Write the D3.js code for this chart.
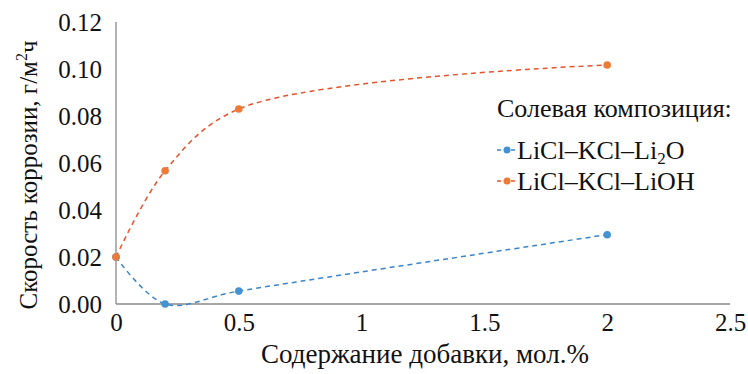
<!DOCTYPE html>
<html><head><meta charset="utf-8">
<script src="https://cdn.jsdelivr.net/npm/d3@7"></script>
<style>body{margin:0;background:#fff}svg{display:block}</style>
</head><body><svg id="c" width="748" height="374"></svg>
<script>
const xValues = [0, 0.2, 0.5, 2];
const li2oValues = [0.02, 0.0, 0.0055, 0.0295];
const liohValues = [0.02, 0.0567, 0.083, 0.1017];
const xTicks = [0, 0.5, 1, 1.5, 2, 2.5];
const yTicks = [0, 0.02, 0.04, 0.06, 0.08, 0.10, 0.12];
const seriesNames = ["LiCl–KCl–Li2O", "LiCl–KCl–LiOH"];

const FONT = "Liberation Serif";
const svg = d3.select("#c");
const x = d3.scaleLinear().domain([0, 2.5]).range([116, 730]);
const y = d3.scaleLinear().domain([0, 0.12]).range([304, 22]);

const axisColor = "#8a8a8a";
svg.append("line").attr("x1", x(0)).attr("x2", x(2.5)).attr("y1", y(0)).attr("y2", y(0)).attr("stroke", axisColor).attr("stroke-width", 1.3);
svg.append("line").attr("x1", x(0)).attr("x2", x(0)).attr("y1", y(0)).attr("y2", y(0.12)).attr("stroke", axisColor).attr("stroke-width", 1.3);

const xa = svg.append("g").attr("transform", `translate(0,${y(0)})`)
  .call(d3.axisBottom(x).tickValues(xTicks).tickSize(0).tickPadding(9).tickFormat(d => String(d)));
xa.select(".domain").remove();
xa.selectAll("text").attr("font-family", FONT).attr("font-size", 25).attr("fill", "#111");

const ya = svg.append("g").attr("transform", `translate(${x(0)},0)`)
  .call(d3.axisLeft(y).tickValues(yTicks).tickSize(0).tickPadding(14).tickFormat(d3.format(".2f")));
ya.select(".domain").remove();
ya.selectAll("text").attr("font-family", FONT).attr("font-size", 25).attr("fill", "#111");

const series = [
  {vals: li2oValues, line: "#3b86c8", mark: "#4592d3"},
  {vals: liohValues, line: "#e5532d", mark: "#ee7a38"}
];
const lineGen = d3.line().x(d => x(d[0])).y(d => y(d[1])).curve(d3.curveCatmullRom.alpha(0.5));
series.forEach(s => {
  const pts = xValues.map((v, i) => [v, s.vals[i]]);
  svg.append("path").attr("d", lineGen(pts)).attr("fill", "none").attr("stroke", s.line)
    .attr("stroke-width", 1.5).attr("stroke-dasharray", "5,4");
  svg.selectAll(null).data(pts).enter().append("circle")
    .attr("cx", d => x(d[0])).attr("cy", d => y(d[1])).attr("r", 3.8).attr("fill", s.mark);
});

// y axis title
const yt = svg.append("text").attr("transform", "translate(37,175) rotate(-90)").attr("text-anchor", "middle")
  .attr("font-family", FONT).attr("font-size", 25).attr("fill", "#111");
yt.append("tspan").text("Скорость коррозии, г/м");
yt.append("tspan").attr("font-size", 16).attr("dy", -10).text("2");
yt.append("tspan").attr("dy", 10).text("ч");

// x axis title
svg.append("text").attr("x", 425).attr("y", 363).attr("text-anchor", "middle")
  .attr("font-family", FONT).attr("font-size", 27).attr("fill", "#111").text("Содержание добавки, мол.%");

// legend
svg.append("text").attr("x", 497).attr("y", 117).attr("font-family", FONT).attr("font-size", 26).attr("fill", "#111").text("Солевая композиция:");
const legY = [150, 181];
series.forEach((s, i) => {
  const g = svg.append("g");
  g.append("line").attr("x1", 497).attr("x2", 516).attr("y1", legY[i]).attr("y2", legY[i])
    .attr("stroke", s.line).attr("stroke-width", 1.5).attr("stroke-dasharray", "4,3");
  g.append("circle").attr("cx", 507).attr("cy", legY[i]).attr("r", 3.5).attr("fill", s.mark);
  const t = g.append("text").attr("x", 517).attr("y", legY[i] + 9).attr("font-family", FONT).attr("font-size", 26).attr("fill", "#111");
  if (i === 0) {
    t.append("tspan").text("LiCl–KCl–Li");
    t.append("tspan").attr("font-size", 17).attr("dy", 5).text("2");
    t.append("tspan").attr("dy", -5).text("O");
  } else {
    t.text(seriesNames[1]);
  }
});
</script></body></html>
